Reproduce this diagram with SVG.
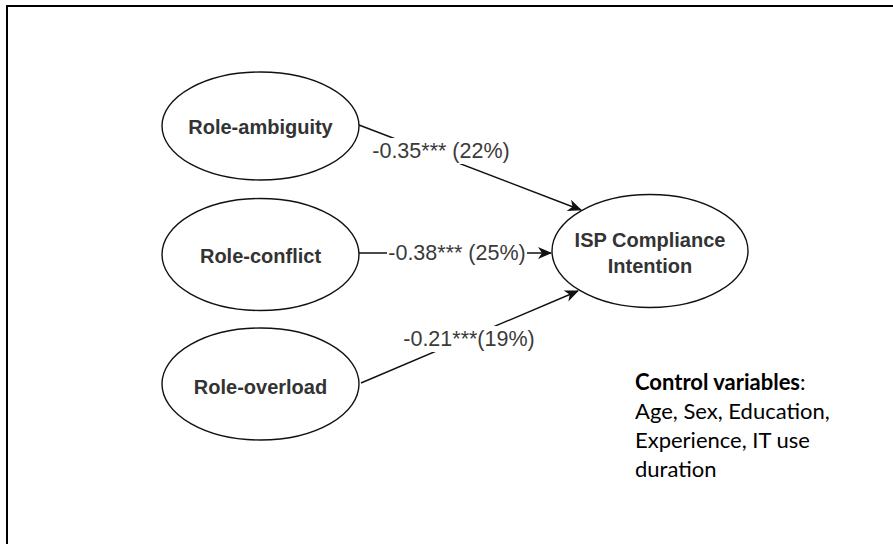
<svg xmlns="http://www.w3.org/2000/svg" width="893" height="544" viewBox="0 0 893 544">
  <style>
    .frame { fill: none; stroke: #000; stroke-width: 2; }
    .node ellipse { fill: #fff; stroke: #111; stroke-width: 1.4; }
    .node text { font-family: "Liberation Sans", Arial, sans-serif; font-size: 20px; font-weight: bold; fill: #333; text-anchor: middle; dominant-baseline: central; }
    .edge { fill: none; stroke: #111; stroke-width: 1.4; marker-end: url(#arrow); }
    .lbl-bg { fill: #fff; }
    .lbl { font-family: "Liberation Sans", Arial, sans-serif; font-size: 21.5px; fill: #3a3a3a; text-anchor: middle; dominant-baseline: central; }
    .note { font-family: Lato, "Open Sans", sans-serif; font-size: 22px; fill: #000; }
  </style>
  <defs>
    <marker id="arrow" markerUnits="userSpaceOnUse" viewBox="0 0 14 12" markerWidth="14" markerHeight="12" refX="13" refY="6" orient="auto">
      <path d="M0,0 L14,6 L0,12 L4,6 z" fill="#111"/>
    </marker>
  </defs>

  <rect class="frame" x="7" y="6" width="900" height="560"/>

  <g id="connectors">
    <line class="edge" x1="359" y1="125" x2="581" y2="210"/>
    <line class="edge" x1="358" y1="253" x2="551" y2="253"/>
    <line class="edge" x1="361" y1="383" x2="578" y2="291"/>
    <rect class="lbl-bg" x="367" y="138" width="148" height="26"/>
    <text class="lbl" x="441" y="151">-0.35*** (22%)</text>
    <rect class="lbl-bg" x="387" y="240" width="140" height="26"/>
    <text class="lbl" x="457" y="253">-0.38*** (25%)</text>
    <rect class="lbl-bg" x="405" y="326" width="128" height="26"/>
    <text class="lbl" x="469" y="339">-0.21***(19%)</text>
  </g>

  <g id="role-ambiguity" class="node">
    <ellipse cx="260.5" cy="126" rx="98.5" ry="54"/>
    <text x="260.5" y="127">Role-ambiguity</text>
  </g>
  <g id="role-conflict" class="node">
    <ellipse cx="260.5" cy="254.5" rx="98.5" ry="56"/>
    <text x="260.5" y="256">Role-conflict</text>
  </g>
  <g id="role-overload" class="node">
    <ellipse cx="260.5" cy="384" rx="98.5" ry="56"/>
    <text x="260.5" y="387">Role-overload</text>
  </g>
  <g id="isp-compliance-intention" class="node">
    <ellipse cx="650" cy="251" rx="98" ry="56.5"/>
    <text x="650" y="240">ISP Compliance</text>
    <text x="650" y="266">Intention</text>
  </g>

  <g id="control-variables">
    <text class="note" x="635" y="390"><tspan font-weight="bold">Control variables</tspan>:</text>
    <text class="note" x="635" y="419">Age, Sex, Education,</text>
    <text class="note" x="635" y="448">Experience, IT use</text>
    <text class="note" x="635" y="477">duration</text>
  </g>
</svg>
